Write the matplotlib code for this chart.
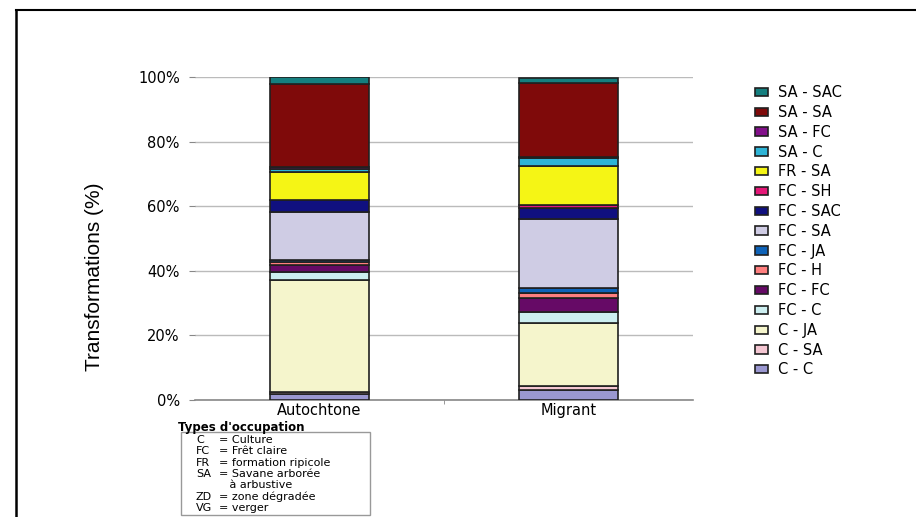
import matplotlib.pyplot as plt
from matplotlib.patches import Patch, Rectangle
from matplotlib.lines import Line2D

# categories (x axis)
groups = ["Autochtone", "Migrant"]

# stack order from bottom to top
classes = ["C - C", "C - SA", "C - JA", "FC - C", "FC - FC", "FC - H", "FC - JA",
           "FC - SA", "FC - SAC", "FC - SH", "FR - SA", "SA - C", "SA - FC",
           "SA - SA", "SA - SAC"]

autochtone = [1.9, 0.7, 34.6, 2.3, 2.2, 1.0, 0.5, 15.0, 3.6, 0.0, 8.7, 1.0, 0.6, 25.6, 2.3]
migrant = [3.1, 1.2, 19.5, 3.3, 4.4, 1.6, 1.5, 21.4, 3.4, 1.0, 12.1, 2.4, 0.3, 23.0, 1.4]

colors = ["#9a97d0", "#f4c6d2", "#f5f5cc", "#cceef0", "#660a66", "#ff7f7f", "#0f63b8",
          "#cfcce4", "#10107f", "#e51878", "#f5f515", "#2eb4d6", "#82108a",
          "#7f0a0a", "#157f7f"]

plt.rcParams['font.family'] = ['DejaVu Sans']

fig = plt.figure(figsize=(9.16, 5.17), dpi=100)
ax = fig.add_axes([195/916, 1-400/517, 498/916, 323/517])

x = [0, 1]
bottom = [0.0, 0.0]
for i in range(len(classes)):
    vals = [autochtone[i], migrant[i]]
    ax.bar(x, vals, width=0.4, bottom=bottom, color=colors[i],
           edgecolor="#202020", linewidth=1.2, zorder=3)
    bottom = [bottom[0] + vals[0], bottom[1] + vals[1]]

ax.set_xlim(-0.5, 1.5)
ax.set_ylim(0, 100)
ax.set_yticks([0, 20, 40, 60, 80, 100])
ax.set_yticklabels(["0%", "20%", "40%", "60%", "80%", "100%"], fontsize=10.5)
ax.set_xticks([0, 1])
ax.set_xticklabels(groups, fontsize=10.5)
ax.set_xticks([0.5], minor=True)
ax.tick_params(axis='x', which='major', length=0, pad=2)
ax.tick_params(axis='x', which='minor', length=3, color="#888888")
ax.tick_params(axis='y', length=4, color="#888888", pad=7)
ax.grid(axis='y', color="#bbbbbb", linewidth=1, zorder=0)
for s in ["top", "right", "left"]:
    ax.spines[s].set_visible(False)
ax.spines["bottom"].set_color("#888888")
ax.spines["bottom"].set_linewidth(1.2)

fig.text(95/916, 1-277/517, "Transformations (%)", rotation=90, ha='center', va='center',
         fontsize=15, family=['Liberation Sans'])

# legend, top entry first
handles = [Patch(facecolor=colors[i], edgecolor="#202020", linewidth=1.2)
           for i in range(len(classes) - 1, -1, -1)]
labels = [classes[i] for i in range(len(classes) - 1, -1, -1)]
fig.legend(handles, labels, loc='upper left', bbox_to_anchor=(742/916, 1-72/517),
           frameon=False, fontsize=10.5, handlelength=0.9, handleheight=0.5,
           handletextpad=0.7, labelspacing=0.33)

# occupation types note
fig.text(178/916, 1-427/517, "Types d'occupation", fontsize=8.5, fontweight='bold',
         va='center')
fig.patches.append(Rectangle((181/916, 1-515/517), 189/916, 83/517,
                             transform=fig.transFigure, fill=False,
                             edgecolor="#999999", linewidth=1))
abbr = ["C", "FC", "FR", "SA", "", "ZD", "VG"]
meaning = ["= Culture", "= Frêt claire", "= formation ripicole", "= Savane arborée",
           "   à arbustive", "= zone dégradée", "= verger"]
for k in range(len(abbr)):
    yy = 1 - (440 + k * 11.3) / 517
    fig.text(196/916, yy, abbr[k], fontsize=8, va='center')
    fig.text(219/916, yy, meaning[k], fontsize=8, va='center')

# outer frame
fig.lines.append(Line2D([16/916, 16/916], [0, 1-10/517], transform=fig.transFigure,
                        color="black", linewidth=1.8))
fig.lines.append(Line2D([16/916, 1], [1-10/517, 1-10/517], transform=fig.transFigure,
                        color="black", linewidth=1.5))

plt.savefig("out.png", dpi=100)
plt.close()
